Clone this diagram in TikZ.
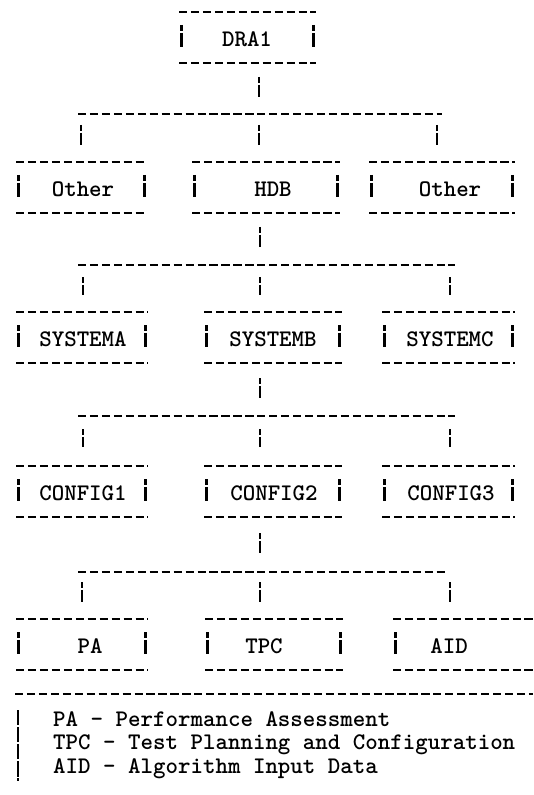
\documentclass[tikz,border=0pt]{standalone}
\usepackage{fontspec}
\usetikzlibrary{calc}

\tikzset{
  hdash/.style={line width=2.2pt, dash pattern=on 7pt off 3.2pt},
  vbar/.style={line width=2pt, dash pattern=on 5pt off 1.8pt on 20pt off 2pt},
  legendbar/.style={line width=2pt, dash pattern=on 13pt off 1.6pt},
  tlabel/.style={font=\ttfamily\bfseries\fontsize{20.3pt}{20pt}\selectfont, inner sep=0pt}
}

% top and bottom rules of a box: node, left, right offset
\newcommand{\hframe}[3]{%
  \draw[hdash] ($(#1)+(#2,-27)$) -- ($(#1)+(#3,-27)$);
  \draw[hdash] ($(#1)+(#2,24)$) -- ($(#1)+(#3,24)$);
}
% side bar of a box: node, x offset
\newcommand{\sidebar}[2]{%
  \draw[vbar] ($(#1)+(#2,-14)$) -- ++(0,22);
}

\begin{document}
\begin{tikzpicture}[x=0.03cm, y=-0.03cm]
\useasboundingbox (0,0) rectangle (533,795);

% -------------------------
% BOXES
% -------------------------
\node[tlabel] (DRA1) at (247,39) {DRA1};

\node[tlabel] (Other1) at (83,189) {Other};
\node[tlabel] (HDB) at (273,189) {HDB};
\node[tlabel] (Other2) at (450,189) {Other};

\node[tlabel] (SysA) at (83,339) {SYSTEMA};
\node[tlabel] (SysB) at (273,339) {SYSTEMB};
\node[tlabel] (SysC) at (450,339) {SYSTEMC};

\node[tlabel] (Cfg1) at (83,493) {CONFIG1};
\node[tlabel] (Cfg2) at (274,493) {CONFIG2};
\node[tlabel] (Cfg3) at (451,493) {CONFIG3};

\node[tlabel] (PA) at (90,646) {PA};
\node[tlabel] (TPC) at (264,646) {TPC};
\node[tlabel] (AID) at (449,646) {AID};

% frames
\foreach \n/\l/\r in {DRA1/-68/69, Other1/-67/64, HDB/-81/67, Other2/-81/65,
    SysA/-67/65, SysB/-69/69, SysC/-68/65,
    Cfg1/-67/65, Cfg2/-70/68, Cfg3/-69/64,
    PA/-74/58, TPC/-59/79} {
  \hframe{\n}{\l}{\r}
  \sidebar{\n}{\l+2.5}
  \sidebar{\n}{\r-2.5}
}
\hframe{AID}{-56}{84}
\sidebar{AID}{-53.5}

% -------------------------
% LINKS
% -------------------------
% DRA1 to level 2
\coordinate (J1a) at (81,114);
\coordinate (J1b) at (259,114);
\coordinate (J1c) at (437,114);
\draw[hdash] ($(J1a)+(-3,0)$) -- ($(J1c)+(5,0)$);
\draw[vbar] ($(J1b)+(0,-37)$) -- ++(0,20);
\foreach \j in {J1a,J1b,J1c} \draw[vbar] ($(\j)+(0,11)$) -- ++(0,20);

% HDB to systems
\coordinate (J2a) at (83,265);
\coordinate (J2b) at (260,265);
\coordinate (J2c) at (450,265);
\draw[hdash] ($(J2a)+(-5,0)$) -- ($(J2c)+(5,0)$);
\draw[vbar] ($(J2b)+(0,-38)$) -- ++(0,20);
\foreach \j in {J2a,J2b,J2c} \draw[vbar] ($(\j)+(0,12)$) -- ++(0,18);

% SYSTEMB to configs
\coordinate (J3a) at (83,416);
\coordinate (J3b) at (260,416);
\coordinate (J3c) at (450,416);
\draw[hdash] ($(J3a)+(-5,0)$) -- ($(J3c)+(5,0)$);
\draw[vbar] ($(J3b)+(0,-38)$) -- ++(0,20);
\foreach \j in {J3a,J3b,J3c} \draw[vbar] ($(\j)+(0,13)$) -- ++(0,18);

% CONFIG2 to data sets
\coordinate (J4a) at (82,572);
\coordinate (J4b) at (260,572);
\coordinate (J4c) at (450,572);
\draw[hdash] ($(J4a)+(-4,0)$) -- ($(J4c)+(-3,0)$);
\draw[vbar] ($(J4b)+(0,-39)$) -- ++(0,20);
\foreach \j in {J4a,J4b,J4c} \draw[vbar] ($(\j)+(0,10)$) -- ++(0,20);

% -------------------------
% LEGEND
% -------------------------
\node[tlabel, anchor=west, align=left] (Legend) at (53,745) {%
  PA - Performance Assessment\\
  TPC - Test Planning and Configuration\\
  AID - Algorithm Input Data};
\draw[hdash] (15,694) -- (533,694);
\draw[legendbar] (18,710) -- (18,781);

\end{tikzpicture}
\end{document}
